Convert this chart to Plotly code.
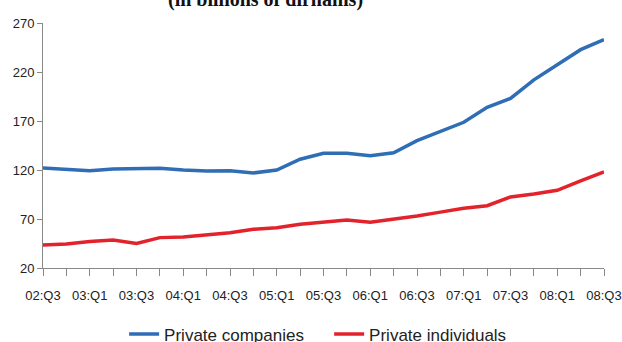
import plotly.graph_objects as go

quarters = ["02:Q3", "02:Q4",
            "03:Q1", "03:Q2", "03:Q3", "03:Q4",
            "04:Q1", "04:Q2", "04:Q3", "04:Q4",
            "05:Q1", "05:Q2", "05:Q3", "05:Q4",
            "06:Q1", "06:Q2", "06:Q3", "06:Q4",
            "07:Q1", "07:Q2", "07:Q3", "07:Q4",
            "08:Q1", "08:Q2", "08:Q3"]

private_companies = [122, 120.3, 119.3, 121, 121.7, 121.7, 120, 119, 119.3, 117,
                     120, 131, 137, 137, 134.6, 137.6, 150, 159, 168.7, 184,
                     193, 212, 227.5, 242.8, 253]

private_individuals = [43.5, 44.5, 47, 48.6, 45, 51, 51.6, 54, 56, 59.5,
                       61, 64.6, 67, 69, 66.6, 69.6, 73, 77, 80.9, 83.6,
                       92.5, 95.5, 99.3, 108.8, 118]

y_ticks = [20, 70, 120, 170, 220, 270]

FONT = "Liberation Sans Narrow, Arial Narrow, Liberation Sans, sans-serif"

# every quarter gets a tick, only every second one gets a label
tick_text = [q if i % 2 == 0 else "" for i, q in enumerate(quarters)]

fig = go.Figure()

fig.add_trace(go.Scatter(
    x=quarters, y=private_companies,
    mode="lines", name="Private companies",
    line=dict(color="#2F6DB5", width=3.5),
))

fig.add_trace(go.Scatter(
    x=quarters, y=private_individuals,
    mode="lines", name="Private individuals",
    line=dict(color="#E3232B", width=3.5),
))

fig.update_layout(
    width=622, height=342,
    margin=dict(l=43, r=18, t=23, b=74, autoexpand=False),
    paper_bgcolor="white",
    plot_bgcolor="white",
    font=dict(family=FONT, size=13, color="#222"),
    showlegend=True,
    legend=dict(
        orientation="h", x=0.51, xanchor="center",
        y=-0.198, yanchor="top",
        font=dict(family=FONT, size=17, color="#222"),
        entrywidth=160, tracegroupgap=0,
    ),
    xaxis=dict(
        type="category", automargin=False,
        range=[0, len(quarters) - 1],
        tickmode="array", tickvals=quarters, ticktext=tick_text,
        ticks="outside", ticklen=7, tickcolor="#888",
        showline=True, linecolor="#888", linewidth=1,
        showgrid=False, zeroline=False,
        tickfont=dict(family=FONT, size=13, color="#222"),
        ticklabelstandoff=8,
    ),
    yaxis=dict(
        range=[20, 270], automargin=False,
        tickmode="array", tickvals=y_ticks,
        ticks="outside", ticklen=5, tickcolor="#888",
        showline=True, linecolor="#888", linewidth=1,
        showgrid=False, zeroline=False,
        tickfont=dict(family=FONT, size=13, color="#222"),
    ),
)

# chart subtitle, partly cut off at the top edge as in the source
fig.add_annotation(
    text="<b>(in billions of dirhams)</b>",
    xref="paper", yref="paper", x=0.396, xanchor="center",
    y=1.0, yshift=10, yanchor="bottom",
    showarrow=False,
    font=dict(family="Liberation Serif, Times New Roman, serif", size=20, color="#111"),
)

# drop the default 8px page margin so the figure fills the window
fig.write_html("out.html", config={"displayModeBar": False},
               post_script="document.body.style.margin='0';")
